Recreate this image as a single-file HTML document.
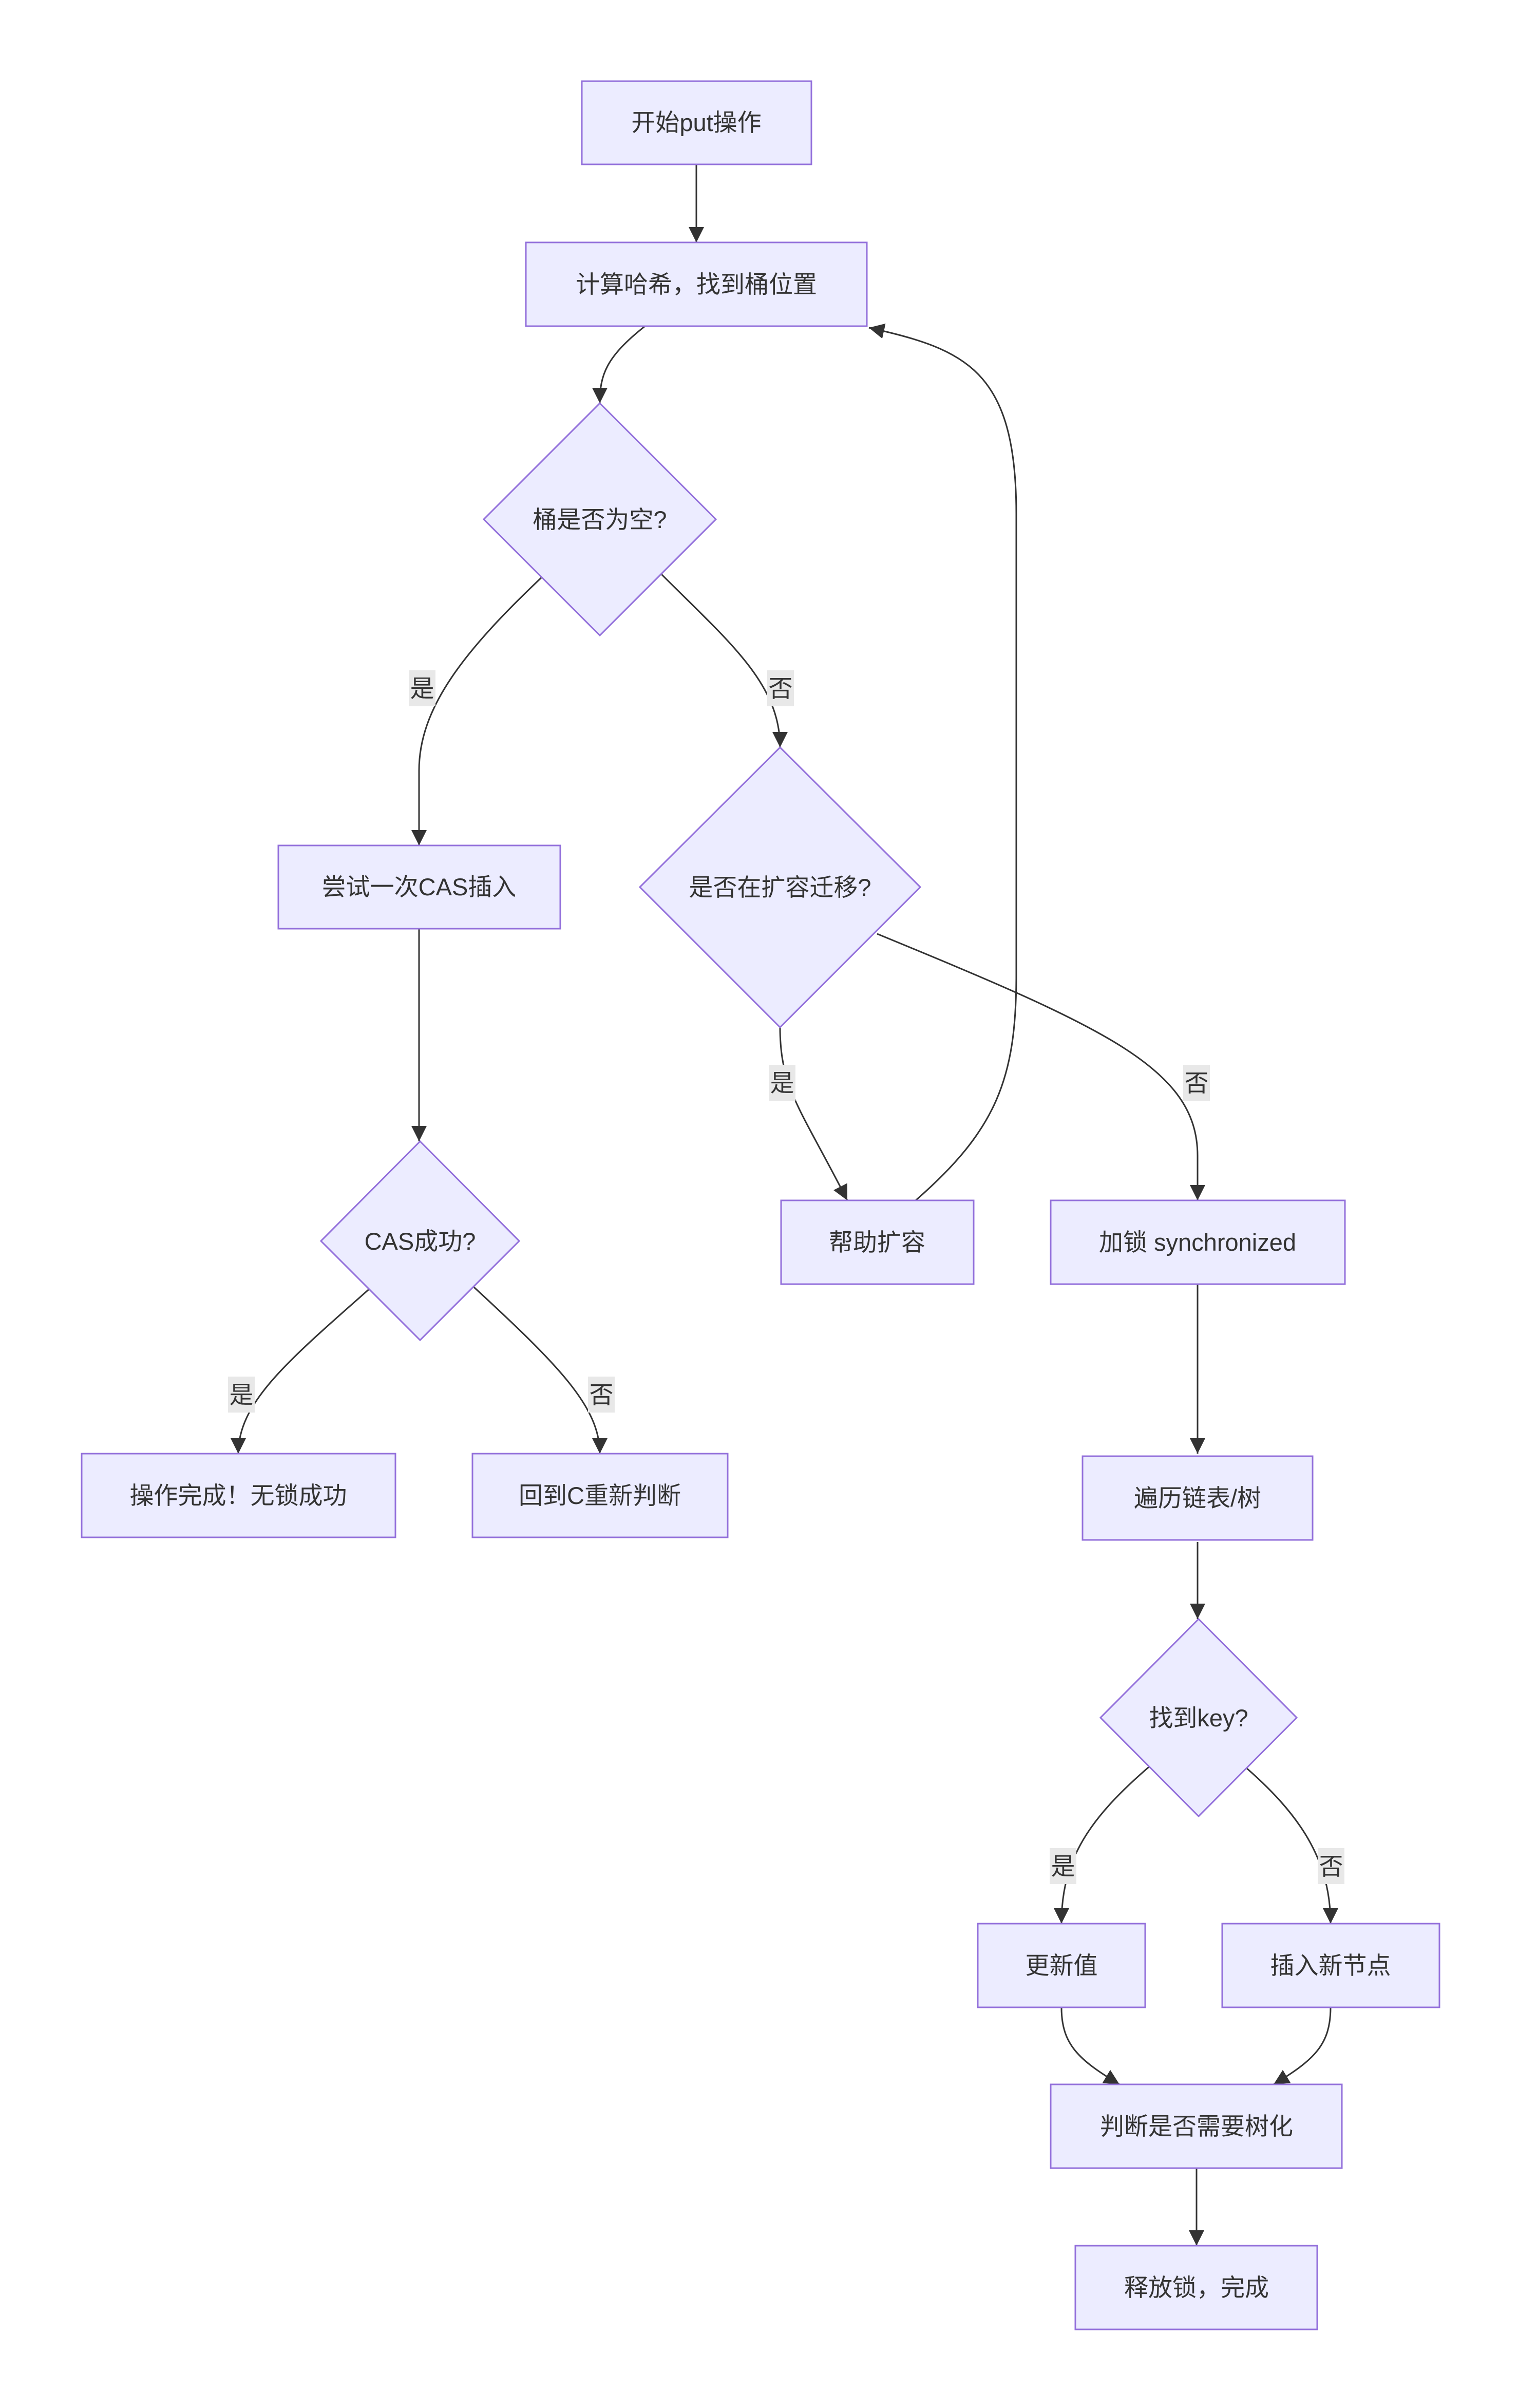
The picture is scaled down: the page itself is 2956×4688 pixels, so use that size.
<!DOCTYPE html>
<html><head><meta charset="utf-8"><style>
html,body{margin:0;padding:0;background:#fff}
svg{display:block}
text{font-family:"Liberation Sans","Noto Sans CJK SC",sans-serif;font-size:47px;fill:#333}
.n{fill:#ECECFF;stroke:#9370DB;stroke-width:3}
.e{fill:none;stroke:#333;stroke-width:3}
.lb{fill:#e8e8e8}
</style></head><body>
<svg width="2956" height="4688" viewBox="0 0 2956 4688" xmlns="http://www.w3.org/2000/svg">
<defs>
<marker id="a" markerUnits="userSpaceOnUse" markerWidth="30" markerHeight="30" viewBox="0 0 10 10" refX="10" refY="5" orient="auto">
<path d="M0,0 L10,5 L0,10 z" fill="#333"/>
</marker>
</defs>
<g class="edges">
<path class="e" d="M1356,320 L1356,472" marker-end="url(#a)"/>
<path class="e" d="M1256,635 C1180,695 1168,730 1168,785" marker-end="url(#a)"/>
<path class="e" d="M1058,1121 C900,1270 816,1380 816,1500 L816,1646" marker-end="url(#a)"/>
<path class="e" d="M1285,1115 C1420,1250 1519,1330 1519,1455" marker-end="url(#a)"/>
<path class="e" d="M816,1808 L816,2222" marker-end="url(#a)"/>
<path class="e" d="M723,2506 C560,2650 464,2730 464,2830" marker-end="url(#a)"/>
<path class="e" d="M923,2506 C1090,2660 1168,2740 1168,2830" marker-end="url(#a)"/>
<path class="e" d="M1519,2000 C1519,2120 1560,2160 1650,2337" marker-end="url(#a)"/>
<path class="e" d="M1783,2337 C1940,2200 1979,2100 1979,1900 L1979,1000 C1979,720 1880,680 1692,638" marker-end="url(#a)"/>
<path class="e" d="M1708,1818 C2150,2000 2332,2080 2332,2250 L2332,2337" marker-end="url(#a)"/>
<path class="e" d="M2332,2500 L2332,2830" marker-end="url(#a)"/>
<path class="e" d="M2332,3002 L2332,3152" marker-end="url(#a)"/>
<path class="e" d="M2243,3435 C2120,3540 2067,3620 2067,3745" marker-end="url(#a)"/>
<path class="e" d="M2419,3435 C2530,3530 2591,3620 2591,3745" marker-end="url(#a)"/>
<path class="e" d="M2067,3908 C2067,3980 2100,4010 2180,4058" marker-end="url(#a)"/>
<path class="e" d="M2591,3908 C2591,3980 2560,4010 2480,4058" marker-end="url(#a)"/>
<path class="e" d="M2330,4221 L2330,4372" marker-end="url(#a)"/>
</g>
<g class="labels" text-anchor="middle">
<rect class="lb" x="796" y="1305" width="52" height="70"/><text x="822" y="1357">是</text>
<rect class="lb" x="1494" y="1305" width="52" height="70"/><text x="1520" y="1357">否</text>
<rect class="lb" x="1497" y="2073" width="52" height="70"/><text x="1523" y="2125">是</text>
<rect class="lb" x="2304" y="2073" width="52" height="70"/><text x="2330" y="2125">否</text>
<rect class="lb" x="444" y="2680" width="52" height="70"/><text x="470" y="2732">是</text>
<rect class="lb" x="1145" y="2680" width="52" height="70"/><text x="1171" y="2732">否</text>
<rect class="lb" x="2044" y="3598" width="52" height="70"/><text x="2070" y="3650">是</text>
<rect class="lb" x="2566" y="3598" width="52" height="70"/><text x="2592" y="3650">否</text>
</g>
<g class="nodes" text-anchor="middle">
<rect class="n" x="1133" y="158" width="447" height="162"/><text x="1356" y="255">开始put操作</text>
<rect class="n" x="1024" y="472" width="664" height="163"/><text x="1356" y="570">计算哈希，找到桶位置</text>
<polygon class="n" points="1168,785 1394,1011 1168,1237 942,1011"/><text x="1168" y="1028">桶是否为空?</text>
<rect class="n" x="542" y="1646" width="549" height="162"/><text x="816" y="1743">尝试一次CAS插入</text>
<polygon class="n" points="1519,1455 1792,1727 1519,2000 1246,1727"/><text x="1519" y="1744">是否在扩容迁移?</text>
<polygon class="n" points="818,2222 1011,2416 818,2609 625,2416"/><text x="818" y="2433">CAS成功?</text>
<rect class="n" x="159" y="2830" width="611" height="163"/><text x="464" y="2928">操作完成！无锁成功</text>
<rect class="n" x="920" y="2830" width="497" height="163"/><text x="1168" y="2928">回到C重新判断</text>
<rect class="n" x="1521" y="2337" width="375" height="163"/><text x="1708" y="2435">帮助扩容</text>
<rect class="n" x="2046" y="2337" width="573" height="163"/><text x="2332" y="2435">加锁 synchronized</text>
<rect class="n" x="2108" y="2835" width="448" height="163"/><text x="2332" y="2933">遍历链表/树</text>
<polygon class="n" points="2334,3152 2525,3344 2334,3536 2143,3344"/><text x="2334" y="3361">找到key?</text>
<rect class="n" x="1904" y="3745" width="326" height="163"/><text x="2067" y="3843">更新值</text>
<rect class="n" x="2380" y="3745" width="423" height="163"/><text x="2591" y="3843">插入新节点</text>
<rect class="n" x="2046" y="4058" width="567" height="163"/><text x="2330" y="4156">判断是否需要树化</text>
<rect class="n" x="2094" y="4372" width="471" height="163"/><text x="2330" y="4470">释放锁，完成</text>
</g>
</svg>
</body></html>
